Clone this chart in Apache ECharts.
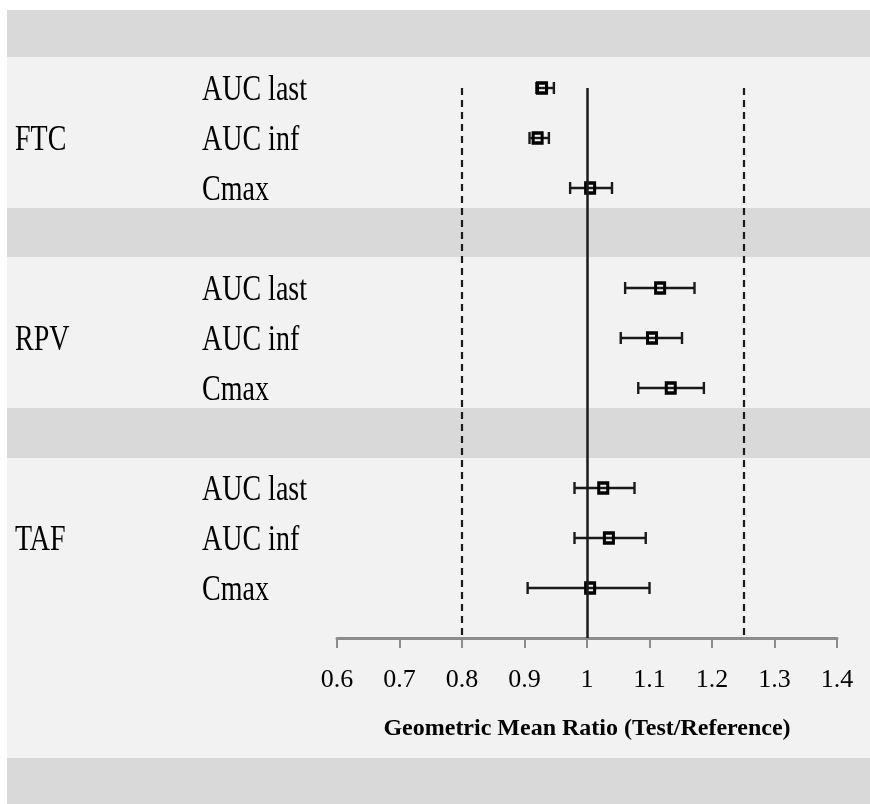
<!DOCTYPE html>
<html>
<head>
<meta charset="utf-8">
<script src="https://cdn.jsdelivr.net/npm/echarts@6/dist/echarts.min.js"></script>
<style>
html,body{margin:0;padding:0;background:#fff;}
#chart{width:870px;height:804px;}
</style>
</head>
<body>
<div id="chart"></div>
<script>
// ---- data ----
const drugs = ['FTC', 'RPV', 'TAF'];
const params = ['AUC last', 'AUC inf', 'Cmax'];
const gmr   = [[0.928, 0.921, 1.005], [1.117, 1.104, 1.134], [1.026, 1.035, 1.005]];
const lower = [[0.919, 0.908, 0.973], [1.061, 1.054, 1.082], [0.980, 0.980, 0.905]];
const upper = [[0.947, 0.939, 1.040], [1.172, 1.152, 1.187], [1.076, 1.094, 1.100]];
const xTicks = { min: 0.6, max: 1.4, step: 0.1 };
const refSolid = 1.0;
const refDashed = [0.8, 1.25];
const axisTitle = 'Geometric Mean Ratio (Test/Reference)';

// ---- layout (row slots) ----
const rowSlots = [[1, 2, 3], [5, 6, 7], [9, 10, 11]];
const bands = [[-0.56, 0.38], [3.4, 4.38], [7.4, 8.4], [14.4, 15.32]];
const FONT = 'Liberation Serif';

const points = [], bars = [], labels = [];
drugs.forEach((d, i) => {
  labels.push({ value: [8, rowSlots[i][1]], text: d });
  params.forEach((p, j) => {
    const s = rowSlots[i][j];
    points.push([gmr[i][j], s]);
    bars.push([lower[i][j], upper[i][j], s]);
    labels.push({ value: [195, s], text: p });
  });
});

const chart = echarts.init(document.getElementById('chart'), null, { renderer: 'canvas' });
const option = {
  animation: false,
  backgroundColor: '#ffffff',
  grid: [
    { left: 7, right: 0, top: 10, bottom: 0, show: true, backgroundColor: '#f2f2f2', borderWidth: 0 },
    { left: 337, right: 33, top: 10, bottom: 166 }
  ],
  xAxis: [
    { gridIndex: 0, type: 'value', min: 0, max: 863, show: false },
    {
      gridIndex: 1, type: 'value', min: xTicks.min, max: xTicks.max, interval: xTicks.step,
      axisLine: { show: true, onZero: false, lineStyle: { color: '#8c8c8c', width: 3 } },
      axisTick: { show: true, length: 10, lineStyle: { color: '#8c8c8c', width: 2 } },
      axisLabel: { fontFamily: FONT, fontSize: 26, color: '#000', margin: 29 },
      splitLine: { show: false },
      name: axisTitle, nameLocation: 'middle', nameGap: 79,
      nameTextStyle: { fontFamily: FONT, fontSize: 24, fontWeight: 'bold', color: '#000' }
    }
  ],
  yAxis: [
    { gridIndex: 0, type: 'value', min: -0.56, max: 15.32, inverse: true, show: false },
    { gridIndex: 1, type: 'value', min: -0.56, max: 12, inverse: true, show: false }
  ],
  series: [
    {
      type: 'custom', xAxisIndex: 0, yAxisIndex: 0, z: 1, silent: true,
      data: bands,
      renderItem: function (params, api) {
        const p0 = api.coord([0, api.value(0)]);
        const p1 = api.coord([863, api.value(1)]);
        return { type: 'rect', shape: { x: p0[0], y: p0[1], width: p1[0] - p0[0], height: p1[1] - p0[1] },
                 style: { fill: '#d9d9d9' } };
      }
    },
    {
      type: 'custom', xAxisIndex: 0, yAxisIndex: 0, z: 5, silent: true,
      data: labels,
      renderItem: function (params, api) {
        const p = api.coord([api.value(0), api.value(1)]);
        return { type: 'text', x: p[0], y: p[1] + 3, scaleX: 0.8,
                 style: { x: 0, y: 0, text: labels[params.dataIndex].text, fill: '#000',
                          font: '35px "' + FONT + '"', align: 'left', verticalAlign: 'middle' } };
      }
    },
    {
      type: 'line', xAxisIndex: 1, yAxisIndex: 1, z: 2, data: [], silent: true,
      markLine: {
        symbol: 'none', silent: true, label: { show: false },
        data: [
          [{ coord: [refSolid, 1], lineStyle: { type: 'solid', color: '#1a1a1a', width: 2.5 } }, { coord: [refSolid, 12] }],
          ...refDashed.map(v => [{ coord: [v, 1], lineStyle: { type: [7, 5], color: '#1a1a1a', width: 2.2 } }, { coord: [v, 12] }])
        ]
      }
    },
    {
      type: 'custom', xAxisIndex: 1, yAxisIndex: 1, z: 3, silent: true,
      data: bars,
      renderItem: function (params, api) {
        const a = api.coord([api.value(0), api.value(2)]);
        const b = api.coord([api.value(1), api.value(2)]);
        const h = 6;
        const st = { stroke: '#1a1a1a', lineWidth: 2.4, fill: null };
        return { type: 'group', children: [
          { type: 'line', shape: { x1: a[0], y1: a[1], x2: b[0], y2: b[1] }, style: st },
          { type: 'line', shape: { x1: a[0], y1: a[1] - h, x2: a[0], y2: a[1] + h }, style: st },
          { type: 'line', shape: { x1: b[0], y1: b[1] - h, x2: b[0], y2: b[1] + h }, style: st }
        ] };
      }
    },
    {
      type: 'scatter', xAxisIndex: 1, yAxisIndex: 1, z: 4, silent: true,
      symbol: 'rect', symbolSize: [9, 10],
      itemStyle: { color: 'rgba(0,0,0,0)', borderColor: '#000', borderWidth: 3.2, opacity: 1 },
      data: points
    }
  ]
};
chart.setOption(option);
</script>
</body>
</html>
